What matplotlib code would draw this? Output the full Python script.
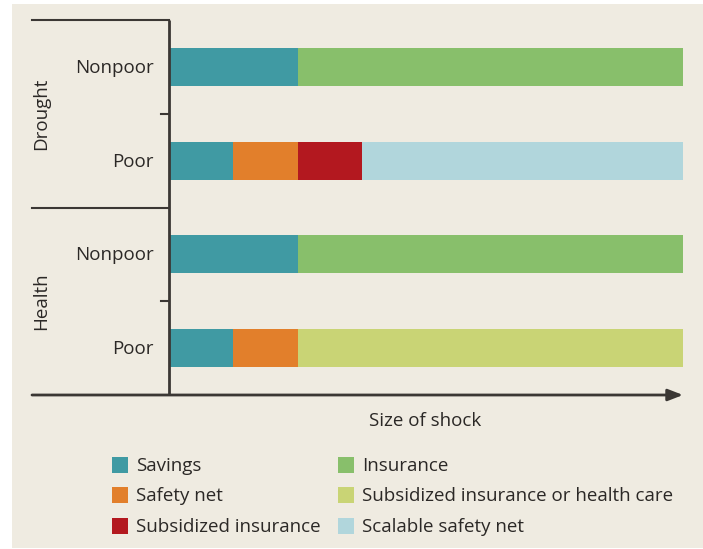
import matplotlib
matplotlib.use("Agg")
import matplotlib.pyplot as plt
from matplotlib.patches import Rectangle
from matplotlib.transforms import blended_transform_factory

plt.rcParams["font.family"] = ["Open Sans", "DejaVu Sans"]

W, H = 703, 549

# rows from bottom to top
row_labels = ["Poor", "Nonpoor", "Poor", "Nonpoor"]
group_labels = ["Health", "Drought"]

savings = [1, 2, 1, 2]
safety_net = [1, 0, 1, 0]
subsidized_insurance = [0, 0, 1, 0]
scalable_safety_net = [0, 0, 5, 0]
insurance = [0, 6, 0, 6]
subsidized_health = [6, 0, 0, 0]

series = [
    ("Savings", savings, "#409aa3"),
    ("Safety net", safety_net, "#e27f2b"),
    ("Subsidized insurance", subsidized_insurance, "#b3181f"),
    ("Scalable safety net", scalable_safety_net, "#b1d6dc"),
    ("Insurance", insurance, "#88bf6b"),
    ("Subsidized insurance or health care", subsidized_health, "#c9d475"),
]
legend_order = [
    ["Savings", "Safety net", "Subsidized insurance"],
    ["Insurance", "Subsidized insurance or health care", "Scalable safety net"],
]

BG = "#efebe1"
INK = "#2b2826"
LINE = "#3b3734"


def fx(px):
    return px / W


def fy(py):
    return 1 - py / H


fig = plt.figure(figsize=(W / 100, H / 100), dpi=100, facecolor="white")
fig.patches.append(Rectangle((fx(12), fy(548)), fx(703) - fx(12), fy(4) - fy(548),
                             transform=fig.transFigure, facecolor=BG, edgecolor="none", zorder=-5))

ax = fig.add_axes([fx(169), fy(395), fx(683) - fx(169), fy(20) - fy(395)])
ax.set_facecolor("none")
ax.set_xlim(0, 8)
ax.set_ylim(-0.5, 3.5)
for s in ax.spines.values():
    s.set_visible(False)
ax.set_xticks([])
ax.set_yticks([])

ypos = list(range(len(row_labels)))
left = [0] * len(row_labels)
for name, vals, color in series:
    ax.barh(ypos, vals, left=left, height=0.405, color=color, linewidth=0, zorder=2)
    left = [l + v for l, v in zip(left, vals)]

# vertical axis
ax.plot([0, 0], [-0.5, 3.5], color=LINE, lw=2, solid_capstyle="butt", clip_on=False, zorder=3)

# group separators on the left
ytr = ax.get_yaxis_transform()
x_far = (32 - 169) / 514
for yy in [3.5, 1.5]:
    ax.plot([x_far, 0], [yy, yy], color=LINE, lw=1.5, transform=ytr, clip_on=False)
# small ticks between rows
for yy in [2.5, 0.5]:
    ax.plot([-8 / 514, 0], [yy, yy], color=LINE, lw=1.5, transform=ytr, clip_on=False)

# horizontal axis with arrow
ax.annotate("", xy=(1.0, -0.5), xytext=(x_far, -0.5), xycoords=ytr, textcoords=ytr,
            arrowprops=dict(arrowstyle="-|>,head_length=0.9,head_width=0.35", color=LINE, lw=2,
                            shrinkA=0, shrinkB=0, mutation_scale=10),
            annotation_clip=False)

fs = 13.5
for y, lab in zip(ypos, row_labels):
    ax.text((154 - 169) / 514, y - 6 / 93.75, lab, transform=ytr, ha="right", va="baseline",
            fontsize=fs, color=INK)

gtr = blended_transform_factory(fig.transFigure, ax.transData)
for gi, g in enumerate(group_labels):
    yc = 2 * gi + 0.5
    ax.text(fx(46), yc, g, transform=gtr, rotation=90, rotation_mode="anchor",
            ha="center", va="baseline", fontsize=fs, color=INK)

fig.text(fx(425.5), fy(426), "Size of shock", ha="center", va="baseline", fontsize=fs, color=INK)

# legend
colors = {name: color for name, _, color in series}
col_x = [112, 338]
row_y = [465, 495, 526]
for cx, names in zip(col_x, legend_order):
    for ry, name in zip(row_y, names):
        fig.patches.append(Rectangle((fx(cx), fy(ry + 8)), fx(16), 16 / H, transform=fig.transFigure,
                                     facecolor=colors[name], edgecolor="none"))
        fig.text(fx(cx + 24), fy(ry + 6), name, ha="left", va="baseline", fontsize=fs, color=INK)

fig.savefig("out.png", dpi=100, facecolor="white")
